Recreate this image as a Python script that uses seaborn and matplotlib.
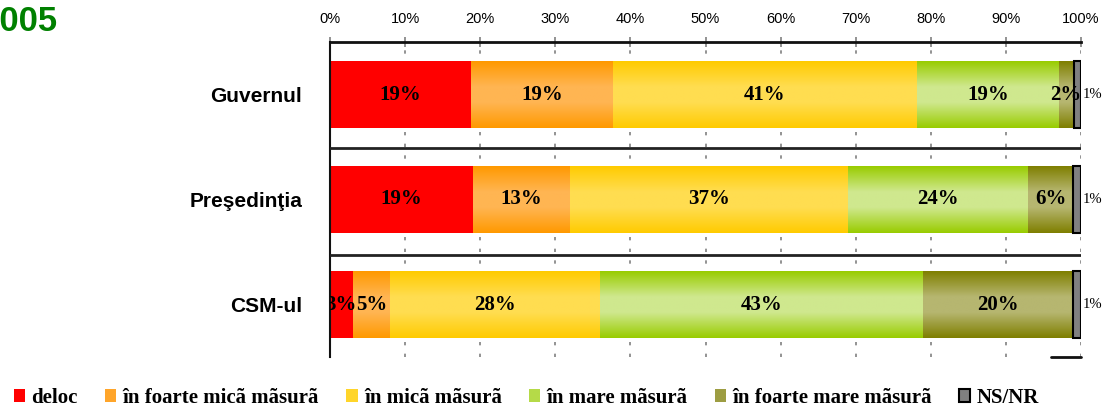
import numpy as np
import pandas as pd
import matplotlib
matplotlib.use("Agg")
import matplotlib.pyplot as plt
import seaborn as sns
from matplotlib.colors import LinearSegmentedColormap
from matplotlib.patches import Patch

# ---------------- data ----------------
categories = ["Guvernul", "Preşedinţia", "CSM-ul"]
levels = ["deloc", "în foarte micã mãsurã", "în micã mãsurã",
          "în mare mãsurã", "în foarte mare mãsurã", "NS/NR"]
deloc = [19, 19, 3]
foarte_mica = [19, 13, 5]
mica = [41, 37, 28]
mare = [19, 24, 43]
foarte_mare = [2, 6, 20]
nsnr = [1, 1, 1]
xtick_labels = ["0%", "10%", "20%", "30%", "40%", "50%",
                "60%", "70%", "80%", "90%", "100%"]
title = "2005"

# ---------------- styles ----------------
flat_colors = ["#FF0000", "#FFA52A", "#FFD52A", "#B5DA48", "#9D9D42", "#808080"]
grad_colors = {1: ("#FF9900", "#FFB552"), 2: ("#FFCB00", "#FFDD50"),
               3: ("#99CC00", "#CFE88E"), 4: ("#7F7F00", "#B6B670")}

series = [deloc, foarte_mica, mica, mare, foarte_mare, nsnr]
rows = []
for j, cat in enumerate(categories):
    vals = [s[j] for s in series]
    tot = float(sum(vals))
    left = 0.0
    for k, lev in enumerate(levels):
        pct = vals[k] / tot * 100
        rows.append(dict(cat=cat, level=lev, value=vals[k], pct=pct,
                         left=left, right=left + pct))
        left += pct
df = pd.DataFrame(rows)

sns.set_style("white")
plt.rcParams["font.family"] = ["Liberation Sans", "DejaVu Sans"]
plt.rcParams["text.color"] = "black"
plt.rcParams["xtick.color"] = "black"
plt.rcParams["ytick.color"] = "black"
plt.rcParams["xtick.labelcolor"] = "black"
plt.rcParams["ytick.labelcolor"] = "black"

fig = plt.figure(figsize=(11.02, 4.08), dpi=100)
ax = fig.add_axes([330 / 1102, 1 - 357 / 408, 751 / 1102, 315 / 408])

sns.barplot(data=df, x="right", y="cat", hue="level", hue_order=levels,
            order=categories, palette=dict(zip(levels, flat_colors)),
            dodge=False, width=0.63, saturation=1, legend=False,
            orient="h", linewidth=0, ax=ax, zorder=2)

# turn cumulative bars into segments
for k, cont in enumerate(ax.containers):
    lev = levels[k]
    for patch in cont.patches:
        yc = patch.get_y() + patch.get_height() / 2
        j = int(round(yc))
        r = df[(df.level == lev) & (df.cat == categories[j])].iloc[0]
        patch.set_x(r.left)
        patch.set_width(r.pct)
        if k == 5:
            patch.set_edgecolor("black")
            patch.set_linewidth(1.5)
            patch.set_zorder(3)
        if k in grad_colors:
            edge, mid = grad_colors[k]
            cmap = LinearSegmentedColormap.from_list(
                "g", [(0, edge), (0.38, mid), (0.62, mid), (1, edge)])
            g = np.linspace(0, 1, 128).reshape(-1, 1)
            y0 = patch.get_y()
            h = patch.get_height()
            im = ax.imshow(g, extent=(r.left, r.left + r.pct, y0 + h, y0),
                           cmap=cmap, aspect="auto", interpolation="bilinear",
                           zorder=2.5)
            im.set_clip_path(patch)
        # labels
        if k < 5:
            ax.text(r.left + r.pct / 2, j, f"{r.value}%", ha="center",
                    va="center", family="Liberation Serif", weight="bold",
                    fontsize=15, color="black", zorder=5, clip_on=True)
        else:
            ax.text(100.2, j, f"{r.value}%", ha="left", va="center",
                    family="Liberation Serif", fontsize=10.5, color="black",
                    zorder=5, clip_on=False)

ax.set_xlim(0, 100)
ax.set_ylim(2.5, -0.5)
ax.set_xticks(range(0, 101, 10))
ax.set_xticklabels(xtick_labels)
ax.xaxis.tick_top()
ax.xaxis.set_label_position("top")
ax.set_xlabel("")
ax.set_ylabel("")
ax.tick_params(axis="x", direction="inout", length=7, width=1.2,
               color="#808080", labelsize=10.5, pad=8, top=True, bottom=False,
               labelcolor="black")
ax.tick_params(axis="y", length=0, pad=20, labelcolor="black")
for lab in ax.get_yticklabels():
    lab.set_fontweight("bold")
    lab.set_fontsize(15)
ax.grid(axis="x", color="#808080", linestyle=(0, (2, 5)), linewidth=1.2)
ax.grid(axis="y", visible=False)
ax.set_axisbelow(True)

for s in ["right", "bottom"]:
    ax.spines[s].set_visible(False)
ax.spines["top"].set_linewidth(2)
ax.spines["top"].set_color("#111111")
ax.spines["left"].set_linewidth(1.5)
ax.spines["left"].set_color("#111111")

for yy in (0.51, 1.53):
    ax.axhline(yy, color="#222222", linewidth=2, zorder=3)
ax.plot([96, 100], [2.5, 2.5], color="#111111", linewidth=2, clip_on=False)

fig.text(58 / 1102, 1 - 5 / 408, title, ha="right", va="top",
         color="#008000", fontsize=25, fontweight="bold")

handles = [Patch(facecolor=c, edgecolor=("black" if i == 5 else "none"),
                 linewidth=(1.5 if i == 5 else 0))
           for i, c in enumerate(flat_colors)]
fig.legend(handles, levels, loc="lower left", bbox_to_anchor=(0.005, -0.02),
           ncol=6, frameon=False,
           prop=dict(family="Liberation Serif", weight="bold", size=15),
           handlelength=0.55, handleheight=0.6, handletextpad=0.3,
           columnspacing=1.3, borderaxespad=0)

fig.savefig("out.png", dpi=100)
